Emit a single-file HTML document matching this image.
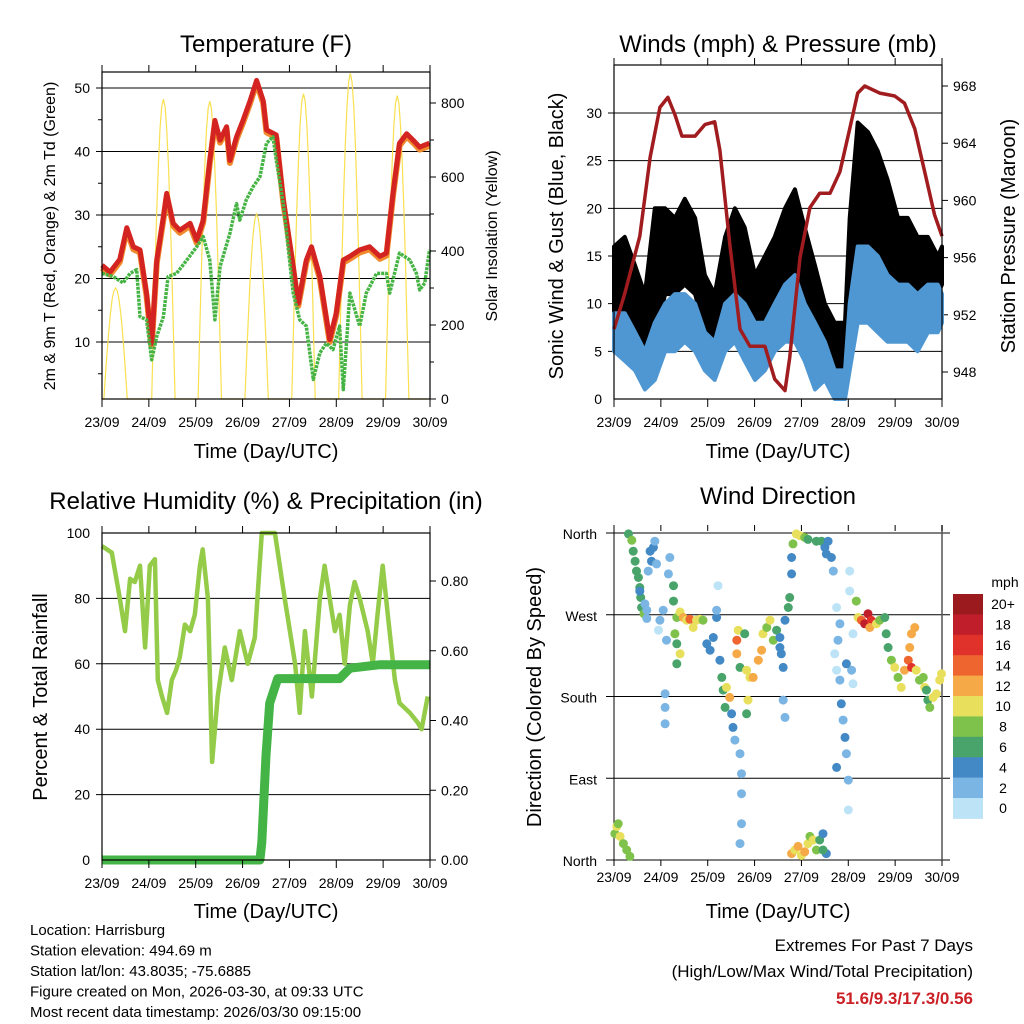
<!DOCTYPE html>
<html><head><meta charset="utf-8"><style>
html,body{margin:0;padding:0;background:#fff;}
svg{display:block;font-family:"Liberation Sans",Arial,sans-serif;}
</style></head><body>
<svg id="c" width="1024" height="1024" viewBox="0 0 1024 1024"></svg>
<script>
// ---------- DATA ----------
const dayLabels=["23/09","24/09","25/09","26/09","27/09","28/09","29/09","30/09"];
// Temperature panel
const tempDays=[0,.17,.38,.53,.67,.81,.95,1.06,1.17,1.31,1.38,1.52,1.66,1.88,2.02,2.16,2.30,2.41,2.52,2.66,2.73,2.87,3.01,3.16,3.30,3.44,3.51,3.72,3.87,4.08,4.19,4.36,4.47,4.65,4.86,5.00,5.15,5.29,5.50,5.71,5.93,6.07,6.21,6.35,6.50,6.64,6.78,6.99];
const tempVals=[22.1,21,23,28,25,24.5,17.7,9.8,22.9,29.7,33.4,28.7,27.6,28.7,26,29.2,38.6,44.9,41.8,43.9,38.6,42.3,44.9,48,51.2,48,43.4,42.6,32.4,21.9,16.1,22.9,25,20.3,10.4,14.6,22.9,23.5,24.5,25,23.5,24,33.4,41.3,42.8,41.8,40.7,41.3];
const dewDays=[0,.24,.45,.60,.74,.81,.95,1.06,1.17,1.31,1.41,1.59,1.81,2.02,2.16,2.30,2.41,2.52,2.73,2.87,2.94,3.08,3.23,3.37,3.51,3.65,3.72,3.87,4.08,4.22,4.36,4.51,4.65,4.79,4.93,5.07,5.15,5.29,5.50,5.64,5.86,6.07,6.14,6.35,6.57,6.71,6.78,6.89,6.99];
const dewVals=[20.8,20.3,19.3,20.8,21.4,14,13.5,7.2,10.9,14,20.3,20.8,22.9,25,26.6,22.9,13.5,21.9,27.1,31.8,29.2,32.4,34.5,36,41.3,42.3,38.6,31.8,17.7,13.5,12.5,4.1,8.3,9.8,8.8,12.5,2.5,17.7,12.5,17.7,20.8,20.8,17.7,24,22.9,20.8,18.2,19.3,24.5];
const sunStart=[0.04,1.06,2.05,3.05,4.05,5.05,6.05];
const sunPeak=[300,810,805,500,825,880,820];
// Winds panel
const windDays=[0,.23,.45,.66,.87,1.09,1.30,1.51,1.73,1.94,2.15,2.37,2.58,2.79,3.01,3.22,3.43,3.65,3.86,4.07,4.29,4.50,4.71,4.93,5.03,5.20,5.42,5.63,5.84,6.06,6.27,6.48,6.70,6.91,7];
const gustLo=[9,9,6,4,6,11,11,12,11,7,5,9,11,9,5,6,9,11,12,9,4,6,3,3,6,15,15,13,11,9,11,9,11,11,12];
const gustHi=[16,17,14,11,20,20,19,21,19,13,11,17,20,18,13,15,17,20,22,18,14,10,8,8,19,29,28,26,23,19,19,17,17,15,16];
const windLo=[5,4,3,1,2,5,5,6,5,3,2,5,6,4,2,3,5,6,6,4,1,2,0,0,3,8,8,7,6,6,6,5,7,7,8];
const windHi=[9,9,7,5,8,10,11,11,10,7,6,10,11,10,8,8,10,12,13,10,8,6,3,3,10,16,16,15,13,12,12,11,12,12,11];
const presDays=[0,.23,.55,.77,.98,1.15,1.30,1.45,1.73,1.94,2.15,2.26,2.47,2.69,2.90,3.22,3.43,3.65,3.75,3.97,4.18,4.39,4.61,4.82,5.03,5.20,5.35,5.67,5.99,6.20,6.42,6.63,6.84,7];
const presVals=[951,953.5,957.5,963,966.5,967.2,966,964.5,964.5,965.3,965.5,963.5,957,951,949.8,949.8,947.5,946.7,949,956,959.5,960.5,960.5,962,965,967.5,968,967.5,967.3,966.8,965,962,959,957.5];
// RH panel
const rhDays=[0,.21,.38,.49,.60,.70,.81,.92,1.02,1.13,1.19,1.28,1.39,1.49,1.58,1.66,1.77,1.88,1.98,2.09,2.15,2.26,2.35,2.47,2.62,2.77,2.94,3.11,3.26,3.41,3.69,3.90,4.12,4.22,4.33,4.48,4.65,4.75,4.86,4.97,5.07,5.18,5.29,5.39,5.50,5.67,5.78,5.88,5.99,6.10,6.25,6.35,6.57,6.74,6.82,6.95];
const rhVals=[96,94,80,70,86,85,90,65,90,92,55,50,45,55,58,62,72,70,75,90,95,80,30,50,65,55,70,60,68,100,100,80,60,45,70,50,80,90,80,70,75,60,78,85,80,70,60,75,90,75,55,48,45,42,40,50];
const precipDays=[0,3.37,3.41,3.50,3.58,3.75,5.07,5.29,5.93,7];
const precipVals=[0,0,.05,.3,.45,.52,.52,.55,.56,.56];
// Wind direction panel: [day, degrees, speed]
const dirObs=[[.31,359,6],[.38,352,8],[.41,340,6],[.45,329,6],[.48,318,6],[.52,311,6],[.55,300,6],[.57,289,6],[.59,278,6],[.64,271,8],[.70,266,2],
[.02,29,8],[.06,37,10],[.09,40,8],[.13,26,10],[.2,18,8],[.27,11,8],[.34,4,8],
[.77,340,4],[.80,329,4],[.84,344,4],[.87,351,2],[.91,326,2],[.73,318,2],[.55,296,4],[.66,282,2],[.70,275,2],
[.95,253,0],[.98,264,2],[1.05,275,2],[1.12,242,2],[1.19,333,2],[1.16,315,2],[1.27,302,6],[1.27,285,6],
[1.34,267,8],[1.41,273,10],[1.48,267,12],[1.55,264,10],[1.62,265,14],[1.69,256,10],[1.76,264,10],[1.83,265,10],[1.90,264,8],[1.30,249,8],[1.34,238,6],[1.41,227,10],[1.34,216,6],[1.09,183,2],[1.09,168,2],[1.09,150,2],
[1.98,238,4],[2.05,231,4],[2.12,245,4],[2.19,267,4],[2.26,220,4],[2.19,275,2],[2.22,302,0],
[2.30,201,6],[2.33,187,6],[2.37,168,6],[2.40,190,10],[2.47,179,12],[2.51,161,4],[2.54,146,4],[2.58,132,2],[2.69,117,2],[2.72,95,2],[2.72,73,2],[2.72,40,2],[2.69,18,2],
[2.65,253,10],[2.62,242,14],[2.62,227,12],[2.69,212,6],[2.79,249,6],[2.83,209,10],[2.90,201,10],[2.86,176,10],[2.83,161,6],[2.97,201,12],[3.08,220,12],[3.15,231,12],[3.18,249,10],[3.26,256,8],[3.33,264,10],[3.40,242,8],[3.47,253,6],
[3.54,245,4],[3.57,227,4],[3.61,212,4],[3.65,264,4],[3.61,176,2],[3.65,157,2],[3.54,234,4],
[3.72,278,6],[3.75,289,6],[3.79,315,4],[3.79,333,4],[3.82,348,8],[3.89,359,10],[3.97,357,10],[4.07,355,8],[4.14,353,6],[4.32,351,6],[4.43,351,6],[4.50,344,4],[4.53,337,4],[4.57,351,4],[4.64,333,4],[4.68,318,2],
[3.79,7,12],[3.86,11,10],[3.93,15,12],[4.00,5,10],[4.07,9,12],[4.14,18,10],[4.18,26,8],[4.25,22,10],[4.32,11,8],[4.39,22,6],[4.46,29,4],[4.53,7,4],[4.46,11,6],
[4.75,278,0],[4.82,260,2],[4.78,242,2],[4.71,227,0],[4.75,209,0],[4.82,198,2],[4.85,172,4],[4.89,154,2],[4.93,135,4],[4.96,117,2],[4.75,102,4],[5.00,88,2],[5.00,55,0],[5.03,318,0],[5.03,296,0],[5.10,249,0],[5.07,209,2],[5.10,194,0],[4.96,216,4],
[5.17,285,8],[5.21,267,10],[5.28,264,14],[5.35,260,18],[5.42,271,18],[5.49,264,16],[5.46,256,12],[5.60,260,10],[5.67,264,8],[5.78,267,6],[5.81,249,6],[5.85,234,6],[5.92,220,8],[5.99,212,10],[6.06,201,8],[6.13,190,10],[6.20,209,12],[6.28,220,14],[6.35,212,16],[6.31,234,12],[6.35,249,12],[6.42,256,12],[6.45,209,10],[6.52,198,8],[6.60,201,8],[6.63,190,10],[6.70,176,6],[6.74,168,8],[6.81,179,10],[6.88,183,10],[6.95,198,10],[6.99,205,10],[6.67,187,6]];
const cbLabels=["20+","18","16","14","12","10","8","6","4","2","0"];
const cbColors=["#9a1a1d","#bf1e2a","#e0322b","#ee6530","#f5a947","#e8e05c","#7fc24b","#48a46a","#4389c6","#7bb5e3","#bde3f6"];

// ---------- HELPERS ----------
const NS="http://www.w3.org/2000/svg";const svg=document.getElementById('c');
function el(tag,attrs,parent){const e=document.createElementNS(NS,tag);for(const k in attrs)e.setAttribute(k,attrs[k]);(parent||svg).appendChild(e);return e;}
function txt(s,x,y,size,anchor,parent,rot){const t=el('text',{x:x,y:y,'font-size':size,'text-anchor':anchor||'middle',fill:'#000'},parent);if(rot)t.setAttribute('transform','rotate(-90 '+x+' '+y+')');t.textContent=s;return t;}
function lin(d0,d1,r0,r1){return v=>r0+(v-d0)*(r1-r0)/(d1-d0);}
function pathFrom(xs,ys,fx,fy){return xs.map((d,i)=>(i?'L':'M')+fx(d).toFixed(1)+' '+fy(ys[i]).toFixed(1)).join(' ');}
function xAxis(g,x0,x1,yb,yt,fx){
  for(let i=0;i<dayLabels.length;i++){const x=fx(i);
    const tk=el('line',{x1:x,y1:yb,x2:x,y2:yb+8,stroke:'#000','stroke-width':1},g);
    
    el('line',{x1:x,y1:yt,x2:x,y2:yt-7,stroke:'#000','stroke-width':1},g);
    const t=txt(dayLabels[i],x,yb+28,14,'middle',g);
    }
}
function frame(g,x0,x1,y0,y1){el('rect',{x:x0,y:y0,width:x1-x0,height:y1-y0,fill:'none',stroke:'#000','stroke-width':1.2},g);}

// ---------- PANEL 1: TEMPERATURE ----------
(function(){
 const g=el('g',{});
 const x0=102,x1=430,y0=72,y1=399;const fx=lin(0,7,x0,x1),fy=lin(10,50,342,88),fs=lin(0,800,399,103);
 [10,20,30,40,50].forEach(v=>{const gl=el('line',{x1:x0-6,y1:fy(v),x2:x1,y2:fy(v),stroke:'#000','stroke-width':1},g);
   txt(String(v),x0-12,fy(v)+5,14,'end',g);});
 [5,15,25,35,45].forEach(v=>el('line',{x1:x0,y1:fy(v),x2:x0-4,y2:fy(v),stroke:'#000'},g));
 [0,200,400,600,800].forEach(v=>{el('line',{x1:x1,y1:fs(v),x2:x1+6,y2:fs(v),stroke:'#000'},g);txt(String(v),x1+11,fs(v)+5,14,'start',g);});
 [100,300,500,700].forEach(v=>el('line',{x1:x1,y1:fs(v),x2:x1+4,y2:fs(v),stroke:'#000'},g));
 let sd=[],sv=[];
 sunStart.forEach((s,i)=>{const n=14;for(let k=0;k<=n;k++){const f=k/n;sd.push(s+0.5*f);sv.push(sunPeak[i]*Math.sin(Math.PI*f));}sd.push(s+0.9);sv.push(0);});
 const sp=el('path',{d:'M'+fx(0)+' '+fs(0)+' '+pathFrom(sd,sv,fx,fs).replace('M','L'),fill:'none',stroke:'#f9e04f','stroke-width':1.2},g);
 
 const po=el('path',{d:pathFrom(tempDays,tempVals.map(v=>v-0.4),fx,fy),fill:'none',stroke:'#f08a2c','stroke-width':6,'stroke-linejoin':'round'},g);
 
 const pr=el('path',{d:pathFrom(tempDays,tempVals,fx,fy),fill:'none',stroke:'#d42422','stroke-width':5,'stroke-linejoin':'round'},g);
 
 const pg=el('path',{d:pathFrom(dewDays,dewVals,fx,fy),fill:'none',stroke:'#46b444','stroke-width':3.5,'stroke-dasharray':'3 1','stroke-linejoin':'round'},g);
 
 frame(g,x0,x1,y0,y1);xAxis(g,x0,x1,y1,y0,fx);
 const t=txt('Temperature (F)',266,52,24,'middle',g);
 const xl=txt('Time (Day/UTC)',266,458,20,'middle',g);
 const yl=txt('2m & 9m T (Red, Orange) & 2m Td (Green)',55,236,16,'middle',g,true);
 const yr=txt('Solar Insolation (Yellow)',497,236,16,'middle',g,true);
})();

// ---------- PANEL 2: WINDS ----------
(function(){
 const g=el('g',{});
 const x0=614,x1=942,y0=65,y1=399;const fx=lin(0,7,x0,x1),fy=lin(0,30,399,113),fp=lin(948,968,372,86);
 [0,5,10,15,20,25,30].forEach(v=>{if(v>0)el('line',{x1:x0-6,y1:fy(v),x2:x1,y2:fy(v),stroke:'#000'},g);txt(String(v),x0-12,fy(v)+5,14,'end',g);});
 [948,952,956,960,964,968].forEach(v=>{el('line',{x1:x1,y1:fp(v),x2:x1+6,y2:fp(v),stroke:'#000'},g);txt(String(v),x1+11,fp(v)+5,14,'start',g);});
 const band=(lo,hi,col,name)=>{const d=pathFrom(windDays,hi,fx,fy)+' '+pathFrom(windDays.slice().reverse(),lo.slice().reverse(),fx,fy).replace('M','L')+'Z';
   const p=el('path',{d:d,fill:col,stroke:col,'stroke-width':4,'stroke-linejoin':'round'},g);};
 band(gustLo,gustHi,'#000','gust-scatter');
 band(windLo,windHi,'#4f97d2','wind-scatter');
 const pp=el('path',{d:pathFrom(presDays,presVals,fx,fp),fill:'none',stroke:'#a01c1f','stroke-width':3.5,'stroke-linejoin':'round'},g);
 
 frame(g,x0,x1,y0,y1);xAxis(g,x0,x1,y1,y0,fx);
 const t=txt('Winds (mph) & Pressure (mb)',778,52,24,'middle',g);
 const xl=txt('Time (Day/UTC)',778,458,20,'middle',g);
 const yl=txt('Sonic Wind & Gust (Blue, Black)',563,236,20,'middle',g,true);
 const yr=txt('Station Pressure (Maroon)',1015,236,20,'middle',g,true);
})();

// ---------- PANEL 3: RH & PRECIP ----------
(function(){
 const g=el('g',{});
 const x0=102,x1=430,y0=533,y1=860;const fx=lin(0,7,x0,x1),fy=lin(0,100,860,533),fr=lin(0,0.8,860,581);
 [0,20,40,60,80,100].forEach(v=>{if(v>0&&v<100)el('line',{x1:x0-6,y1:fy(v),x2:x1,y2:fy(v),stroke:'#000'},g);txt(String(v),x0-12,fy(v)+5,14,'end',g);});
 [0,0.2,0.4,0.6,0.8].forEach(v=>{el('line',{x1:x1,y1:fr(v),x2:x1+6,y2:fr(v),stroke:'#000'},g);txt(v.toFixed(2),x1+11,fr(v)+5,14,'start',g);});
 const pr=el('path',{d:pathFrom(rhDays,rhVals,fx,fy),fill:'none',stroke:'#94cb48','stroke-width':4.5,'stroke-linejoin':'round'},g);
 
 const pp=el('path',{d:pathFrom(precipDays,precipVals,fx,fr),fill:'none',stroke:'#45b446','stroke-width':9,'stroke-linejoin':'round'},g);
 
 frame(g,x0,x1,y0,y1);xAxis(g,x0,x1,y1,y0,fx);
 const t=txt('Relative Humidity (%) & Precipitation (in)',266,509,24,'middle',g);
 const xl=txt('Time (Day/UTC)',266,918,20,'middle',g);
 const yl=txt('Percent & Total Rainfall',47,697,20,'middle',g,true);
})();

// ---------- PANEL 4: WIND DIRECTION ----------
(function(){
 const g=el('g',{});
 const x0=614,x1=942,y0=533,y1=860;const fx=lin(0,7,x0,x1),fy=lin(0,360,860,533);
 const dl=[[0,'North'],[90,'East'],[180,'South'],[270,'West'],[360,'North']];
 dl.forEach(([v,s])=>{el('line',{x1:x0-8,y1:fy(v),x2:x1+8,y2:fy(v),stroke:'#000','stroke-width':1},g);txt(s,x0-17,fy(v)+6,14,'end',g);});
 el('line',{x1:x0,y1:y0-8,x2:x0,y2:y1,stroke:'#000'},g);el('line',{x1:x1,y1:y0-8,x2:x1,y2:y1,stroke:'#555','stroke-width':1.5},g);
 for(let i=0;i<8;i++){el('line',{x1:fx(i),y1:y0-8,x2:fx(i),y2:y0-2,stroke:'#000'},g);el('line',{x1:fx(i),y1:y1,x2:fx(i),y2:y1+6,stroke:'#000'},g);
   const t=txt(dayLabels[i],fx(i),y1+22,14,'middle',g);}
 const colFor=s=>cbColors[10-Math.min(10,Math.round(s/2))];
 dirObs.forEach(o=>{const c=el('circle',{cx:fx(o[0]).toFixed(1),cy:fy(o[1]).toFixed(1),r:4.5,fill:colFor(o[2])},g);
   });
 const cb=el('g',{},g);
 const bh=20.4;cbLabels.forEach((l,i)=>{el('rect',{x:953,y:594+i*bh,width:30,height:bh+0.5,fill:cbColors[i]},cb);txt(l,1003,594+i*bh+bh/2+5,14,'middle',cb);});
 txt('mph',1005,587,14,'middle',cb);
 const t=txt('Wind Direction',778,504,24,'middle',g);
 const xl=txt('Time (Day/UTC)',778,918,20,'middle',g);
 const yl=txt('Direction (Colored By Speed)',541,697,20,'middle',g,true);
})();

// ---------- FOOTER ----------
const info=["Location: Harrisburg","Station elevation: 494.69 m","Station lat/lon: 43.8035; -75.6885","Figure created on Mon, 2026-03-30, at 09:33 UTC","Most recent data timestamp: 2026/03/30 09:15:00"];
info.forEach((s,i)=>{const t=txt(s,30,935+i*20.5,15,'start');});
const e1=txt('Extremes For Past 7 Days',973,951,17,'end');
const e2=txt('(High/Low/Max Wind/Total Precipitation)',973,977,17,'end');
const e3=txt('51.6/9.3/17.3/0.56',973,1004,17,'end');e3.setAttribute('fill','#cc2027');e3.setAttribute('font-weight','bold');
</script>
</body></html>
